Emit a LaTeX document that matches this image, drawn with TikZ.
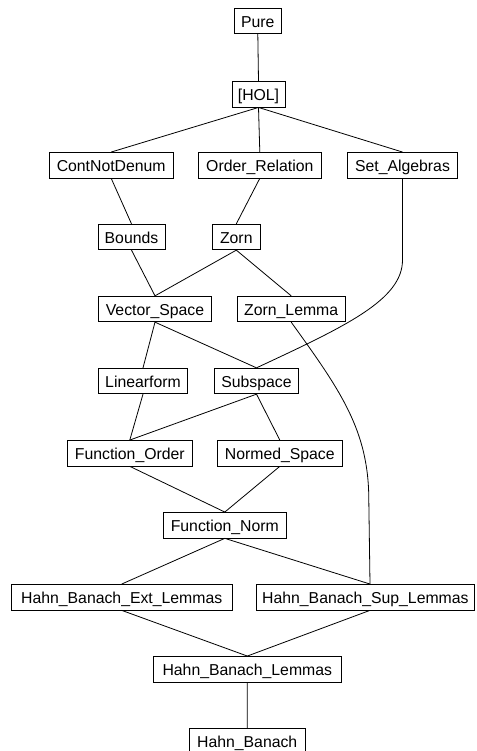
\documentclass[tikz,border=0pt]{standalone}
\usepackage{fontspec}
\setmainfont{Liberation Sans}
\tikzset{
  box/.style={draw, rectangle, line width=0.8pt, inner xsep=0pt, inner ysep=0pt,
    minimum height=25.5pt, text height=13.2pt, text depth=0pt,
    font=\fontsize{15.8pt}{18pt}\selectfont},
  link/.style={line width=0.8pt}
}
\begin{document}
\begin{tikzpicture}[x=1pt,y=1pt]
\useasboundingbox (0,0) rectangle (476,-751);
\node[box,minimum width=47pt] (pure) at (257.8,-20.9) {Pure};
\node[box,minimum width=53pt] (hol) at (258.5,-94.3) {[HOL]};
\node[box,minimum width=123.7pt] (cnd) at (111.2,-165.2) {ContNotDenum};
\node[box,minimum width=123pt] (ordrel) at (259.8,-165.2) {Order\_Relation};
\node[box,minimum width=109.7pt] (setalg) at (402.5,-165.2) {Set\_Algebras};
\node[box,minimum width=67pt] (bounds) at (131.5,-237) {Bounds};
\node[box,minimum width=47.3pt] (zorn) at (236.3,-237) {Zorn};
\node[box,minimum width=113.3pt] (vs) at (155,-309) {Vector\_Space};
\node[box,minimum width=108.3pt] (zl) at (291.2,-309) {Zorn\_Lemma};
\node[box,minimum width=89.3pt] (lf) at (143,-381) {Linearform};
\node[box,minimum width=84.3pt] (sub) at (256.5,-381) {Subspace};
\node[box,minimum width=124.3pt] (fo) at (129.8,-453.2) {Function\_Order};
\node[box,minimum width=125.7pt] (ns) at (279.8,-453.2) {Normed\_Space};
\node[box,minimum width=123pt] (fn) at (224.8,-525.2) {Function\_Norm};
\node[box,minimum width=220.7pt] (hbe) at (121.7,-597.2) {Hahn\_Banach\_Ext\_Lemmas};
\node[box,minimum width=217.3pt] (hbs) at (365.4,-597.2) {Hahn\_Banach\_Sup\_Lemmas};
\node[box,minimum width=188.7pt] (hbl) at (247.3,-669.2) {Hahn\_Banach\_Lemmas};
\node[box,minimum width=115.7pt] (hb) at (247.2,-741.2) {Hahn\_Banach};
\coordinate (sabend) at (402.5,-260);
\coordinate (zlbend) at (368.8,-500);
\draw[link] (pure.south) -- (hol.north);
\draw[link] (hol.south) -- (cnd.north);
\draw[link] (hol.south) -- (ordrel.north);
\draw[link] (hol.south) -- (setalg.north);
\draw[link] (cnd.south) -- (bounds.north);
\draw[link] (ordrel.south) -- (zorn.north);
\draw[link] (setalg.south) -- (sabend) .. controls (402.5,-300) and (345,-326.5) .. (sub.north);
\draw[link] (bounds.south) -- (vs.north);
\draw[link] (zorn.south) -- (vs.north);
\draw[link] (zorn.south) -- (zl.north);
\draw[link] (vs.south) -- (lf.north);
\draw[link] (vs.south) -- (sub.north);
\draw[link] (zl.south) .. controls (340,-390) and (368.8,-430) .. (zlbend) -- ([xshift=4.6pt]hbs.north);
\draw[link] (lf.south) -- (fo.north);
\draw[link] (sub.south) -- (fo.north);
\draw[link] (sub.south) -- (ns.north);
\draw[link] (fo.south) -- (fn.north);
\draw[link] (ns.south) -- (fn.north);
\draw[link] (fn.south) -- (hbe.north);
\draw[link] (fn.south) -- ([xshift=4.6pt]hbs.north);
\draw[link] (hbe.south) -- (hbl.north);
\draw[link] ([xshift=4.6pt]hbs.south) -- (hbl.north);
\draw[link] (hbl.south) -- (hb.north);
\end{tikzpicture}
\end{document}
